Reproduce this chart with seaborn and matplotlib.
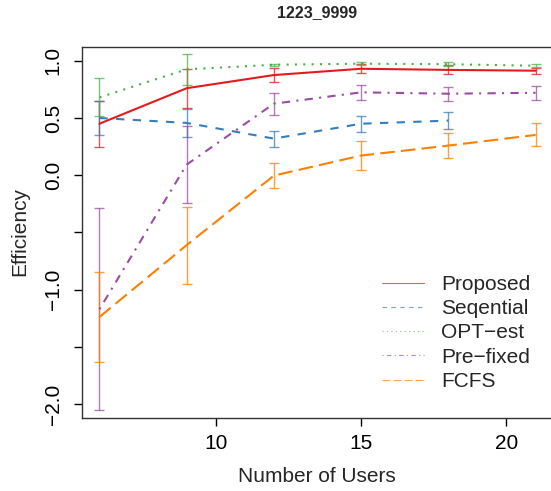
import numpy as np
import pandas as pd
import seaborn as sns
import matplotlib.pyplot as plt
from matplotlib.lines import Line2D

# data
users = [6, 9, 12, 15, 18, 21]
series = ['Proposed', 'Seqential', 'OPT-est', 'Pre-fixed', 'FCFS']
proposed = [0.45, 0.76, 0.875, 0.93, 0.92, 0.913]
proposed_err = [0.20, 0.17, 0.06, 0.04, 0.04, 0.025]
seqential = [0.50, 0.457, 0.32, 0.45, 0.477, np.nan]
seqential_err = [0.15, 0.125, 0.07, 0.07, 0.077, np.nan]
opt_est = [0.68, 0.925, 0.965, 0.974, 0.97, 0.956]
opt_est_err = [0.165, 0.135, 0.01, 0.015, 0.015, 0.015]
pre_fixed = [-1.17, 0.093, 0.625, 0.724, 0.712, 0.72]
pre_fixed_err = [0.88, 0.333, 0.095, 0.068, 0.06, 0.06]
fcfs = [-1.238, -0.61, -0.003, 0.172, 0.259, 0.352]
fcfs_err = [0.395, 0.337, 0.11, 0.13, 0.11, 0.10]

means = [proposed, seqential, opt_est, pre_fixed, fcfs]
errs = [proposed_err, seqential_err, opt_est_err, pre_fixed_err, fcfs_err]
colors = ['#E41A1C', '#377EB8', '#4DAF4A', '#984EA3', '#FF7F00']
dashes = ['', (4, 4), (1, 3), (1, 3, 4, 3), (7, 3)]
legend_labels = ['Proposed', 'Seqential', 'OPT\u2212est', 'Pre\u2212fixed', 'FCFS']

df = pd.DataFrame({
    'users': users * len(series),
    'eff': np.concatenate(means),
    'err': np.concatenate(errs),
    'method': np.repeat(series, len(users)),
})

sns.set_style('white')
plt.rcParams['font.family'] = ['Liberation Sans', 'DejaVu Sans']

fig = plt.figure(figsize=(5.51, 4.91), dpi=100)
ax = fig.add_axes([82 / 551, 1 - 418 / 491, 471 / 551, 371 / 491])

# error bars first, lines on top
for name, col in zip(series, colors):
    d = df[df.method == name].dropna()
    ax.errorbar(d.users, d.eff, yerr=d.err, fmt='none', ecolor=col,
                elinewidth=1, capsize=3.3, capthick=1, alpha=0.75)

sns.lineplot(data=df.dropna(), x='users', y='eff', hue='method', style='method',
             hue_order=series, style_order=series,
             palette=dict(zip(series, colors)), dashes=dict(zip(series, dashes)),
             linewidth=1.5, legend=False, ax=ax)

ax.set_xlim(5.4, 21.6)
ax.set_ylim(-2.12, 1.12)
ax.set_xticks([10, 15, 20])
ax.set_yticks([-2, -1.5, -1, -0.5, 0, 0.5, 1.0])
ax.set_yticklabels(['\u22122.0', '', '\u22121.0', '', '0.0', '0.5', '1.0'],
                   rotation=90, va='center')
ax.tick_params(axis='both', direction='out', length=5.8, width=1, colors='black',
               labelsize=15, left=True, bottom=True, pad=6)
ax.tick_params(axis='y', pad=8)
for s in ax.spines.values():
    s.set_visible(True)
    s.set_color('#333333')
    s.set_linewidth(1)

ax.set_xlabel('')
ax.set_ylabel('')
fig.text(317 / 551, 1 - 476 / 491, 'Number of Users', ha='center', va='center',
         fontsize=15)
fig.text(19.5 / 551, 1 - 232 / 491, 'Efficiency', ha='center', va='center',
         rotation=90, fontsize=15)
fig.text(317 / 551, 1 - 13 / 491, '1223_9999', ha='center', va='center',
         fontsize=11.5, fontweight='bold')

handles = [Line2D([], [], color=c, linewidth=0.8, alpha=0.7,
                  linestyle='-' if d == '' else (0, d))
           for c, d in zip(colors, dashes)]
fig.legend(handles, legend_labels, loc='upper left', frameon=False, fontsize=15,
           bbox_to_anchor=(382 / 551, 1 - 275 / 491), handlelength=2.0,
           handletextpad=0.85, labelspacing=0.25, borderaxespad=0, borderpad=0)

fig.savefig('out.png', dpi=100)
